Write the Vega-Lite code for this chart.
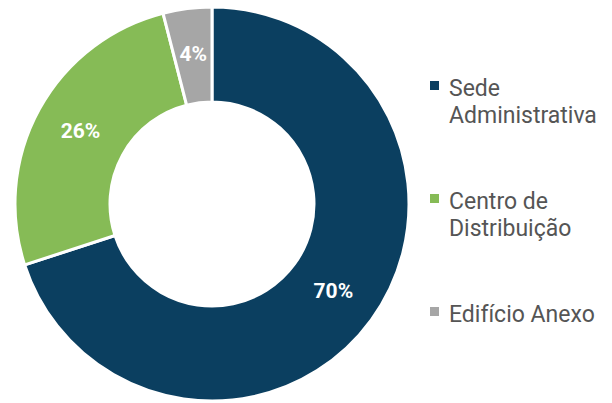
{
  "$schema": "https://vega.github.io/schema/vega-lite/v6.json",
  "width": 424,
  "height": 408,
  "padding": 0,
  "autosize": {"type": "pad"},
  "background": "white",
  "data": {"values": [
    {"categoria": "Sede Administrativa", "valor": 70, "ordem": 1, "rotulo": "70%"},
    {"categoria": "Centro de Distribuição", "valor": 26, "ordem": 2, "rotulo": "26%"},
    {"categoria": "Edifício Anexo", "valor": 4, "ordem": 3, "rotulo": "4%"}
  ]},
  "encoding": {
    "theta": {"field": "valor", "type": "quantitative", "stack": true},
    "order": {"field": "ordem", "type": "quantitative"},
    "color": {
      "field": "categoria", "type": "nominal",
      "scale": {
        "domain": ["Sede Administrativa", "Centro de Distribuição", "Edifício Anexo"],
        "range": ["#0b3f60", "#86bb56", "#a6a6a6"]
      },
      "legend": {
        "title": null,
        "orient": "none",
        "legendX": 423,
        "legendY": 66,
        "symbolType": "M-1,0.78H1V2.78H-1Z",
        "symbolSize": 81,
        "symbolStrokeWidth": 0,
        "labelFont": "Roboto",
        "labelFontSize": 23,
        "labelColor": "#555555",
        "labelBaseline": "top",
        "labelOffset": 3,
        "labelLimit": 300,
        "rowPadding": 51,
        "labelExpr": "datum.label == 'Sede Administrativa' ? ['Sede', 'Administrativa'] : datum.label == 'Centro de Distribuição' ? ['Centro de', 'Distribuição'] : datum.label"
      }
    }
  },
  "layer": [
    {
      "mark": {"type": "arc", "outerRadius": 197, "innerRadius": 102, "stroke": "white", "strokeWidth": 3}
    },
    {
      "mark": {"type": "text", "radius": 150, "font": "Roboto", "fontSize": 21, "fontWeight": "bold", "fill": "white"},
      "encoding": {
        "text": {"field": "rotulo", "type": "nominal"},
        "color": {"value": "white"}
      }
    }
  ],
  "config": {
    "view": {"stroke": null},
    "style": {"guide-label": {"lineHeight": 27}}
  }
}
